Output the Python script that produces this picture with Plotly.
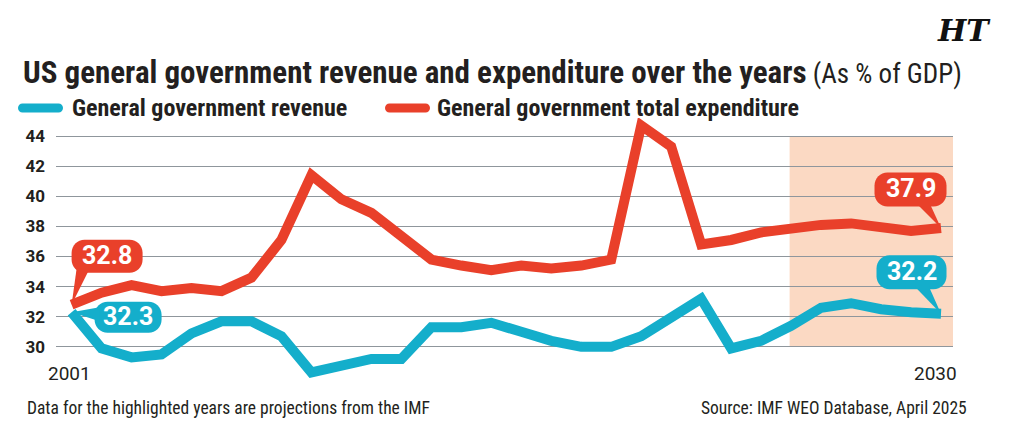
import plotly.graph_objects as go

years = list(range(2001, 2031))
revenue = [32.3, 29.9, 29.3, 29.5, 30.9, 31.7, 31.7, 30.7, 28.3, 28.7,
           29.2, 29.2, 31.3, 31.3, 31.6, 31.0, 30.4, 30.0, 30.0, 30.7,
           31.9, 33.2, 29.9, 30.4, 31.4, 32.6, 32.9, 32.5, 32.3, 32.2]
expenditure = [32.8, 33.6, 34.1, 33.7, 33.9, 33.7, 34.6, 37.1, 41.4, 39.8,
               38.9, 37.3, 35.8, 35.4, 35.1, 35.4, 35.2, 35.4, 35.8, 44.7,
               43.3, 36.8, 37.1, 37.6, 37.9, 38.1, 38.2, 38.0, 37.7, 37.9]
y_ticks = [30, 32, 34, 36, 38, 40, 42, 44]
projection_start = 2025

BLUE = "#14AECB"
RED = "#E9402A"
SHADE = "#FBD9C3"
GRID = "#8F969C"
INK = "#231F20"
NARROW = "Liberation Sans Narrow, Roboto Condensed, DejaVu Sans Condensed, Arial Narrow, sans-serif"
NUM = "Roboto, Liberation Sans, sans-serif"

W, H = 1013, 435
ML, MR, MT, MB = 56, 60, 118, 55
XR = [2000.48, 2030.4]
YR = [27.8, 45.2]
PW, PH = W - ML - MR, H - MT - MB


def px_x(px):
    return (px - ML) / PW


def px_y(py):
    return (H - MB - py) / PH


def rrect(cx, cy, w, h, r):
    k = 0.5523 * r
    x0, x1, y0, y1 = cx - w / 2, cx + w / 2, cy - h / 2, cy + h / 2
    return (f"M{x0+r},{y0} L{x1-r},{y0} C{x1-r+k},{y0} {x1},{y0+r-k} {x1},{y0+r} "
            f"L{x1},{y1-r} C{x1},{y1-r+k} {x1-r+k},{y1} {x1-r},{y1} "
            f"L{x0+r},{y1} C{x0+r-k},{y1} {x0},{y1-r+k} {x0},{y1-r} "
            f"L{x0},{y0+r} C{x0},{y0+r-k} {x0+r-k},{y0} {x0+r},{y0} Z")


fig = go.Figure()
fig.add_trace(go.Scatter(x=years, y=revenue, mode="lines", name="General government revenue",
                         line=dict(color=BLUE, width=10), showlegend=False, hoverinfo="x+y"))
fig.add_trace(go.Scatter(x=years, y=expenditure, mode="lines", name="General government total expenditure",
                         line=dict(color=RED, width=10), showlegend=False, hoverinfo="x+y"))

shapes = []
annotations = []

# projection shading
shapes.append(dict(type="rect", xref="x", yref="y", x0=projection_start - 0.05, x1=XR[1],
                   y0=y_ticks[0], y1=y_ticks[-1], fillcolor=SHADE, line=dict(width=0), layer="below"))

# callout bubbles: (x, y, color, center dx, center dy, w, h, pointer base)
callouts = [
    (years[0], expenditure[0], RED, 35.5, 48.5, 71, 33, [(5, 36), (18, 36)]),
    (years[0], revenue[0], BLUE, 56.5, -5, 67, 31, [(28, 5), (28, -9)]),
    (years[-1], expenditure[-1], RED, -30.5, 38.5, 72, 34, [(-24, 24), (-11, 24)]),
    (years[-1], revenue[-1], BLUE, -29.5, 41.5, 70, 34, [(-26, 27), (-12, 27)]),
]
for xv, yv, col, cx, cy, w, h, base in callouts:
    shapes.append(dict(type="path", xref="x", yref="y", xsizemode="pixel", ysizemode="pixel",
                       xanchor=xv, yanchor=yv, path=rrect(cx, cy, w, h, 13),
                       fillcolor=col, line=dict(width=0), layer="above"))
    (ax, ay), (bx, by) = base
    shapes.append(dict(type="path", xref="x", yref="y", xsizemode="pixel", ysizemode="pixel",
                       xanchor=xv, yanchor=yv, path=f"M{ax},{ay} L0,0 L{bx},{by} Z",
                       fillcolor=col, line=dict(width=0), layer="above"))
    annotations.append(dict(x=xv, y=yv, xref="x", yref="y", text=f"<b>{yv:.1f}</b>",
                            showarrow=False, xshift=cx, yshift=cy + 1,
                            font=dict(family=NUM, size=25, color="white")))

# legend swatches and text
legend_items = [("General government revenue", BLUE, 18, 70),
                ("General government total expenditure", RED, 385, 435)]
for label, col, sx, tx in legend_items:
    shapes.append(dict(type="path", xref="paper", yref="paper", xsizemode="pixel", ysizemode="pixel",
                       xanchor=px_x(sx), yanchor=px_y(108), path=rrect(22.5, 0, 45, 9, 4.5),
                       fillcolor=col, line=dict(width=0)))
    annotations.append(dict(x=px_x(tx), y=px_y(108), xref="paper", yref="paper", xanchor="left",
                            yanchor="middle", showarrow=False, text=f"<b>{label}</b>",
                            font=dict(family=NARROW, size=24, color=INK)))

# title
annotations.append(dict(x=px_x(21), y=px_y(72), xref="paper", yref="paper", xanchor="left", yanchor="middle",
                        showarrow=False,
                        text=("<b>US general government revenue and expenditure over the years</b>"
                              "<span style='font-size:27px'> (As % of GDP)</span>"),
                        font=dict(family=NARROW, size=31, color=INK)))
# logo
annotations.append(dict(x=px_x(964), y=px_y(30), xref="paper", yref="paper", xanchor="center", yanchor="middle",
                        showarrow=False, text="<b><i>HT</i></b>",
                        font=dict(family="DejaVu Serif, Liberation Serif, serif", size=30, color="#111111")))
# x labels
for xv, sh in ((years[0], -2.5), (years[-1], -6)):
    annotations.append(dict(x=xv, y=px_y(373), xref="x", yref="paper", xanchor="center", yanchor="middle",
                            showarrow=False, text=str(xv), xshift=sh,
                            font=dict(family=NUM, size=19, color=INK)))
# footer
annotations.append(dict(x=px_x(25), y=px_y(408), xref="paper", yref="paper", xanchor="left", yanchor="middle",
                        showarrow=False, text="Data for the highlighted years are projections from the IMF",
                        font=dict(family=NARROW, size=17.5, color=INK)))
annotations.append(dict(x=px_x(969), y=px_y(408), xref="paper", yref="paper", xanchor="right", yanchor="middle",
                        showarrow=False, text="Source: IMF WEO Database, April 2025",
                        font=dict(family=NARROW, size=17.5, color=INK)))

fig.update_layout(
    width=W, height=H, margin=dict(l=ML, r=MR, t=MT, b=MB, pad=0),
    paper_bgcolor="white", plot_bgcolor="white",
    shapes=shapes, annotations=annotations, showlegend=False,
    xaxis=dict(range=XR, showgrid=False, zeroline=False, showticklabels=False, showline=False, ticks=""),
    yaxis=dict(range=YR, tickvals=y_ticks, ticktext=[f"<b>{v}</b>" for v in y_ticks],
               showgrid=True, gridcolor=GRID, gridwidth=1.3, zeroline=False, showline=False,
               ticks="", ticklabelstandoff=10, tickfont=dict(family=NUM, size=17, color=INK)),
)

fig.write_html("out.html")
